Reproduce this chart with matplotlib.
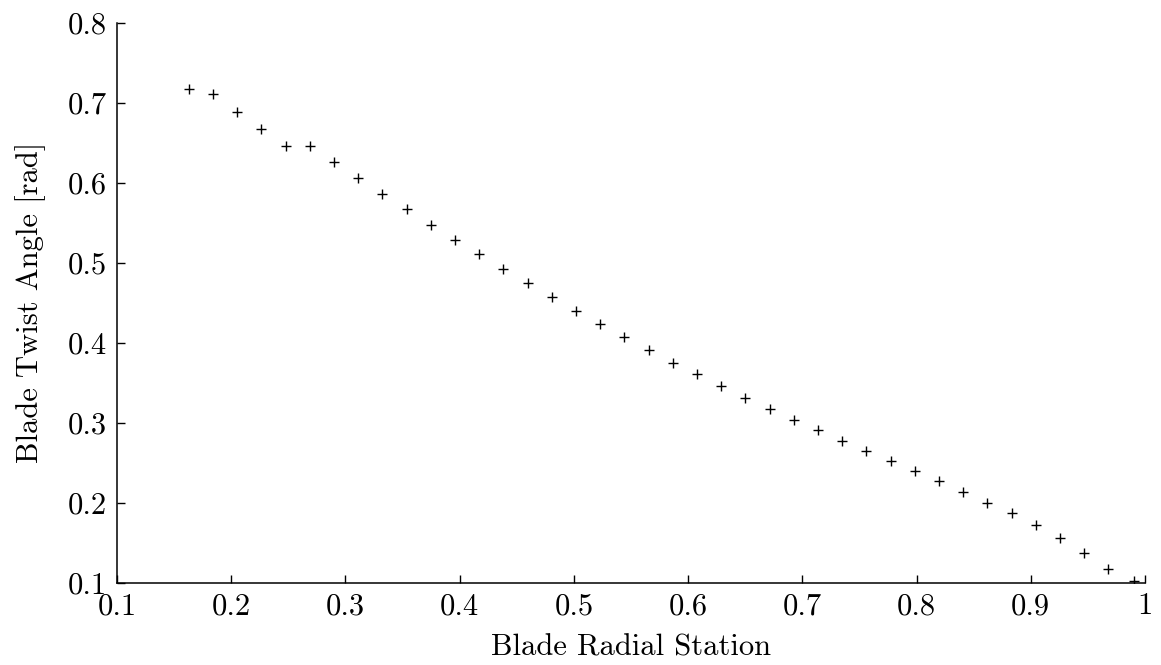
import matplotlib
matplotlib.use("Agg")
import matplotlib.pyplot as plt

# blade twist distribution
radial_station = [0.163, 0.184, 0.205, 0.226, 0.248, 0.269, 0.290, 0.311, 0.332, 0.354,
                  0.375, 0.396, 0.417, 0.438, 0.460, 0.481, 0.502, 0.523, 0.544, 0.566,
                  0.587, 0.608, 0.629, 0.650, 0.672, 0.693, 0.714, 0.735, 0.756, 0.778,
                  0.799, 0.820, 0.841, 0.862, 0.884, 0.905, 0.926, 0.947, 0.968, 0.990]
twist_angle = [0.717, 0.711, 0.688, 0.667, 0.646, 0.646, 0.626, 0.606, 0.586, 0.567,
               0.547, 0.529, 0.511, 0.492, 0.475, 0.457, 0.440, 0.423, 0.407, 0.391,
               0.375, 0.361, 0.346, 0.331, 0.317, 0.304, 0.291, 0.278, 0.265, 0.252,
               0.240, 0.227, 0.214, 0.200, 0.187, 0.172, 0.156, 0.137, 0.118, 0.103]

x_ticks = [0.1, 0.2, 0.3, 0.4, 0.5, 0.6, 0.7, 0.8, 0.9, 1.0]
y_ticks = [0.1, 0.2, 0.3, 0.4, 0.5, 0.6, 0.7, 0.8]

plt.rcParams['font.family'] = ['cmr10', 'DejaVu Serif']
plt.rcParams['mathtext.fontset'] = 'cm'
plt.rcParams['axes.unicode_minus'] = False

fig = plt.figure(figsize=(11.61, 6.65), dpi=100)
ax = fig.add_axes([0.1008, 0.1233, 0.8854, 0.8426])

ax.plot(radial_station, twist_angle, linestyle='none', marker='+',
        markersize=7, markeredgewidth=1.0, color='black')

ax.set_xlim(0.1, 1.0)
ax.set_ylim(0.1, 0.8)
ax.set_xticks(x_ticks)
ax.set_xticklabels([f"{v:g}" for v in x_ticks])
ax.set_yticks(y_ticks)
ax.set_yticklabels([f"{v:g}" for v in y_ticks])

for side in ['top', 'right']:
    ax.spines[side].set_visible(False)
for side in ['left', 'bottom']:
    ax.spines[side].set_linewidth(1.1)

ax.tick_params(direction='in', length=6, width=1.0, labelsize=22, pad=7)

ax.set_xlabel('Blade Radial Station', fontsize=22, labelpad=10)
ax.set_ylabel('Blade Twist Angle [rad]', fontsize=22, labelpad=16)

fig.savefig('out.png', dpi=100)
